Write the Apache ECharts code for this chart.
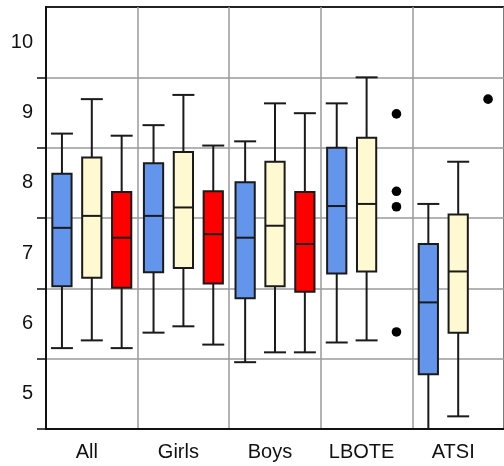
<!DOCTYPE html>
<html>
<head>
<meta charset="utf-8">
<script src="https://cdn.jsdelivr.net/npm/echarts@6/dist/echarts.min.js"></script>
<style>
html,body{margin:0;padding:0;background:#fff;}
#chart{width:504px;height:466px;}
</style>
</head>
<body>
<div id="chart"></div>
<script>
// ---- data ----
var categories = ['All', 'Girls', 'Boys', 'LBOTE', 'ATSI'];
// each row: [min, Q1, median, Q3, max]
var blueBoxes = [
  [5.65, 6.53, 7.36, 8.13, 8.70],
  [5.87, 6.73, 7.53, 8.28, 8.82],
  [5.45, 6.36, 7.22, 8.01, 8.59],
  [5.73, 6.71, 7.67, 8.50, 9.13],
  [4.30, 5.28, 6.30, 7.13, 7.70]
];
var creamBoxes = [
  [5.76, 6.65, 7.53, 8.36, 9.19],
  [5.96, 6.79, 7.65, 8.44, 9.25],
  [5.59, 6.53, 7.39, 8.30, 9.13],
  [5.76, 6.74, 7.70, 8.64, 9.50],
  [4.68, 5.87, 6.74, 7.55, 8.30]
];
var redBoxes = [
  [5.65, 6.51, 7.22, 7.87, 8.67],
  [5.70, 6.57, 7.27, 7.88, 8.53],
  [5.59, 6.45, 7.13, 7.87, 8.99],
  null,
  null
];
// outliers: [category index, value]
var outlierPoints = [
  [3, 8.98], [3, 7.88], [3, 7.66], [3, 5.88],
  [4, 9.19]
];
var yTickValues = [5, 6, 7, 8, 9, 10];
var yGridValues = [4.5, 5.5, 6.5, 7.5, 8.5, 9.5];

// ---- build ----
function boxData(rows) {
  var out = [];
  rows.forEach(function (r, i) {
    if (r) out.push([i].concat(r));
  });
  return out;
}

var LINE = '#1a1a1a';

function boxRenderer(offsetFrac, fill) {
  return function (params, api) {
    var cat = api.value(0);
    var band = api.size([1, 0])[0];
    var cx = api.coord([cat, 0])[0] + band * offsetFrac;
    var yMin = api.coord([cat, api.value(1)])[1];
    var yQ1 = api.coord([cat, api.value(2)])[1];
    var yMed = api.coord([cat, api.value(3)])[1];
    var yQ3 = api.coord([cat, api.value(4)])[1];
    var yMax = api.coord([cat, api.value(5)])[1];
    var bw = band * 0.21;
    var cw = band * 0.24;
    var ls = { stroke: LINE, lineWidth: 2 };
    return {
      type: 'group',
      children: [
        { type: 'line', shape: { x1: cx, y1: yQ3, x2: cx, y2: yMax }, style: ls },
        { type: 'line', shape: { x1: cx, y1: yQ1, x2: cx, y2: yMin }, style: ls },
        { type: 'line', shape: { x1: cx - cw / 2, y1: yMax, x2: cx + cw / 2, y2: yMax }, style: ls },
        { type: 'line', shape: { x1: cx - cw / 2, y1: yMin, x2: cx + cw / 2, y2: yMin }, style: ls },
        { type: 'rect', shape: { x: cx - bw / 2, y: yQ3, width: bw, height: yQ1 - yQ3 },
          style: { fill: fill, stroke: LINE, lineWidth: 2 } },
        { type: 'line', shape: { x1: cx - bw / 2, y1: yMed, x2: cx + bw / 2, y2: yMed }, style: ls }
      ]
    };
  };
}

function dotRenderer(offsetFrac) {
  return function (params, api) {
    var cat = api.value(0);
    var band = api.size([1, 0])[0];
    var p = api.coord([cat, api.value(1)]);
    return {
      type: 'circle',
      shape: { cx: p[0] + band * offsetFrac, cy: p[1], r: 4.8 },
      style: { fill: '#000' }
    };
  };
}

var chart = echarts.init(document.getElementById('chart'), null, { renderer: 'canvas' });

chart.setOption({
  animation: false,
  backgroundColor: '#fff',
  textStyle: { fontFamily: 'Liberation Sans, Arial, sans-serif' },
  grid: {
    left: 46, top: 7, right: -3.25, bottom: 37,
    show: true, borderColor: '#222', borderWidth: 2, backgroundColor: 'transparent'
  },
  xAxis: {
    type: 'category',
    data: categories,
    boundaryGap: true,
    axisLine: { show: true, lineStyle: { color: '#111', width: 2 } },
    axisTick: { show: false },
    splitLine: { show: true, lineStyle: { color: '#9a9a9a', width: 1.5 } },
    axisLabel: {
      color: '#111', fontSize: 20, margin: 13,
      fontFamily: 'Liberation Sans, Arial, sans-serif',
      padding: [0, 10, 0, 0]
    }
  },
  yAxis: [
    {
      type: 'value', position: 'left',
      min: 4.5, max: 10.5, interval: 1,
      axisLine: { show: true, lineStyle: { color: '#111', width: 2 } },
      axisTick: { show: true, inside: false, length: 9, customValues: yGridValues,
        lineStyle: { color: '#111', width: 1.5 } },
      splitLine: { show: true, lineStyle: { color: '#9a9a9a', width: 1.5 } },
      axisLabel: { show: false }
    },
    {
      type: 'value', position: 'left',
      min: 4.5, max: 10.5, interval: 0.5,
      axisLine: { show: false },
      axisTick: { show: false },
      splitLine: { show: false },
      axisLabel: {
        color: '#111', fontSize: 20, margin: 13,
        fontFamily: 'Liberation Sans, Arial, sans-serif',
        formatter: function (v) {
          return yTickValues.indexOf(v) >= 0 ? String(v) : '';
        }
      }
    }
  ],
  series: [
    {
      name: 'blue', type: 'custom', yAxisIndex: 0, clip: true,
      renderItem: boxRenderer(-0.326, '#6495ED'),
      encode: { x: 0, y: [1, 2, 3, 4, 5] },
      data: boxData(blueBoxes)
    },
    {
      name: 'cream', type: 'custom', yAxisIndex: 0, clip: true,
      renderItem: boxRenderer(0, '#FFF9D2'),
      encode: { x: 0, y: [1, 2, 3, 4, 5] },
      data: boxData(creamBoxes)
    },
    {
      name: 'red', type: 'custom', yAxisIndex: 0, clip: true,
      renderItem: boxRenderer(0.326, '#FF0000'),
      encode: { x: 0, y: [1, 2, 3, 4, 5] },
      data: boxData(redBoxes)
    },
    {
      name: 'outliers', type: 'custom', yAxisIndex: 0, clip: true,
      renderItem: dotRenderer(0.326),
      encode: { x: 0, y: 1 },
      data: outlierPoints
    }
  ]
});
</script>
</body>
</html>
